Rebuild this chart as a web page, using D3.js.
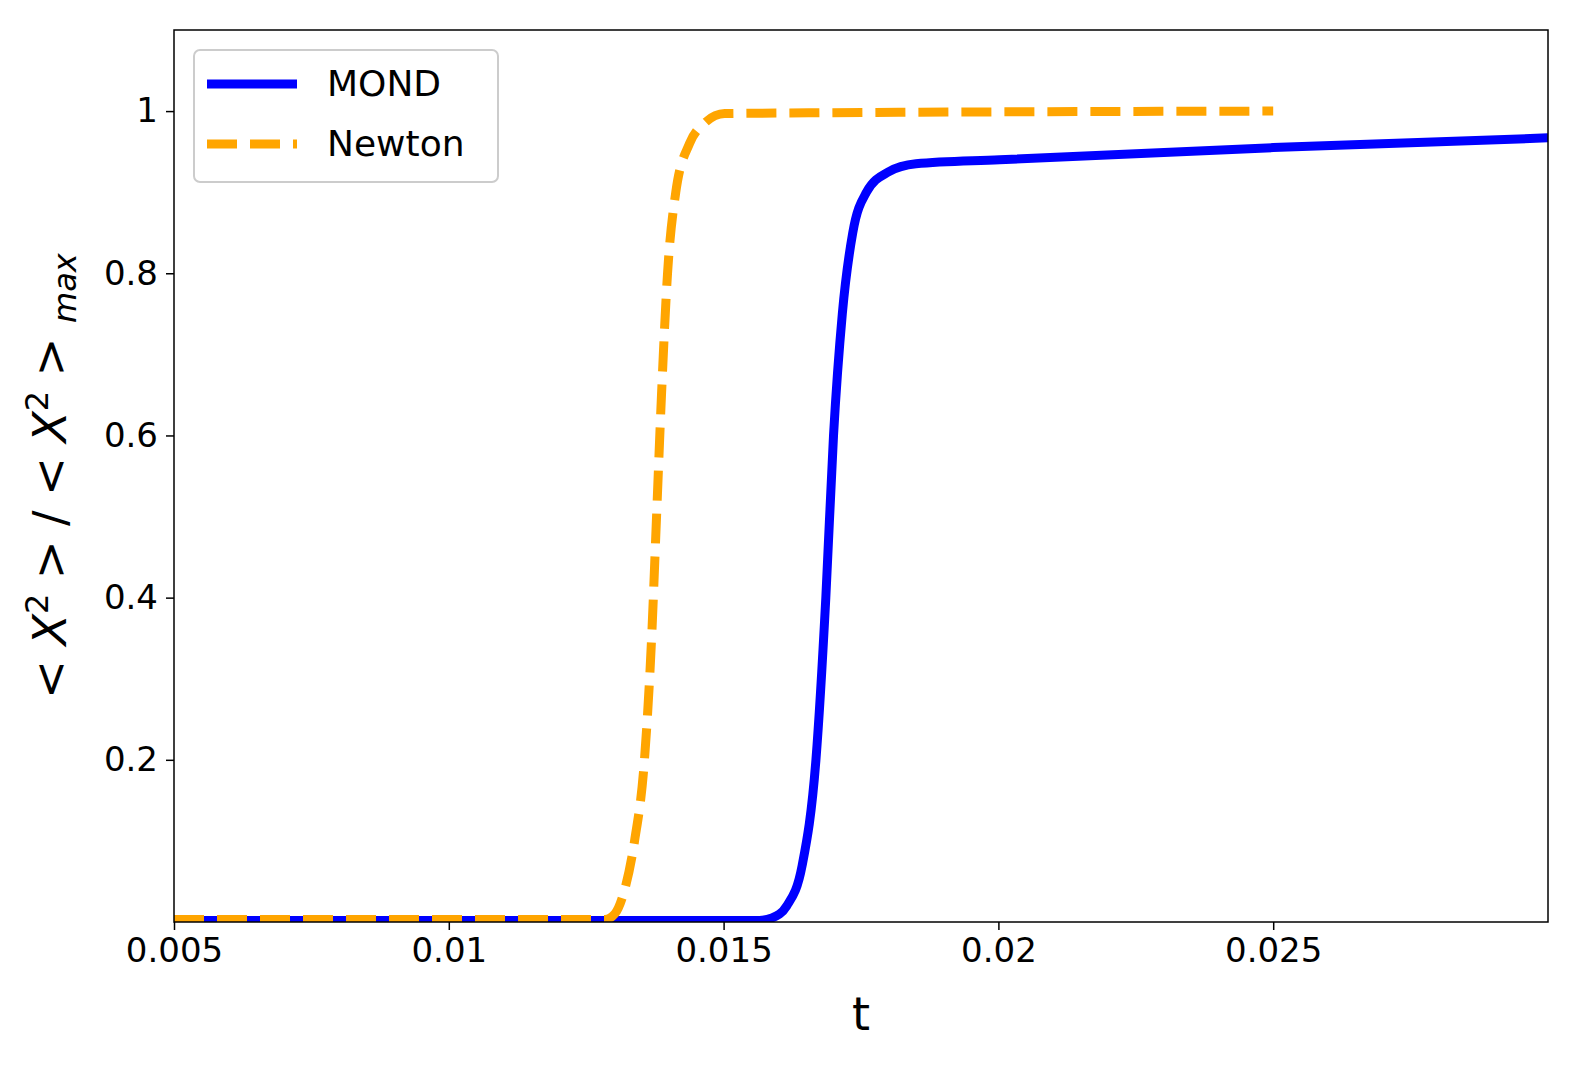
<!DOCTYPE html>
<html><head><meta charset="utf-8">
<script src="https://cdn.jsdelivr.net/npm/d3@7"></script>
<style>body{margin:0;background:#fff}svg{font-family:"DejaVu Sans",sans-serif}</style>
</head><body>
<svg id="c" width="1590" height="1075"></svg>
<script>
const newtonT = [0.005,0.01284,0.01302,0.0132,0.01338,0.01356,0.01369,0.01378,0.01387,0.01398,0.01413,0.01438,0.01465,0.01502,0.025];
const newtonV = [0.003,0.003,0.01,0.04,0.1,0.2,0.35,0.5,0.65,0.8,0.9,0.96,0.985,0.997,1.0];
const mondT = [0.005,0.01565,0.01588,0.01615,0.01643,0.01668,0.01686,0.017,0.01716,0.01735,0.0176,0.018,0.0185,0.02002,0.025,0.03];
const mondV = [0.002,0.002,0.005,0.02,0.07,0.2,0.4,0.6,0.75,0.85,0.9,0.925,0.935,0.94,0.955,0.967];
const xTicks = [0.005,0.01,0.015,0.02,0.025];
const xLabels = ['0.005','0.01','0.015','0.02','0.025'];
const yTicks = [0.2,0.4,0.6,0.8,1];
const yLabels = ['0.2','0.4','0.6','0.8','1'];

const svg = d3.select('#c');
const L = 174, R = 1548, T = 30, B = 922;
const x = d3.scaleLinear().domain([0.005, 0.03]).range([L, R]);
const y = d3.scaleLinear().domain([0, 1.1]).range([B, T]);

const g = svg.append('g');
g.append('clipPath').attr('id', 'clip').append('rect')
    .attr('x', L).attr('y', T).attr('width', R - L).attr('height', B - T);

const line = d3.line().x(d => x(d[0])).y(d => y(d[1])).curve(d3.curveMonotoneX);

g.append('path').attr('clip-path', 'url(#clip)')
    .attr('d', line(mondT.map((t, i) => [t, mondV[i]])))
    .attr('fill', 'none').attr('stroke', '#0000ff').attr('stroke-width', 9);
g.append('path').attr('clip-path', 'url(#clip)')
    .attr('d', line(newtonT.map((t, i) => [t, newtonV[i]])))
    .attr('fill', 'none').attr('stroke', '#ffa500').attr('stroke-width', 9)
    .attr('stroke-dasharray', '30,13');

// frame
g.append('rect').attr('x', L).attr('y', T).attr('width', R - L).attr('height', B - T)
    .attr('fill', 'none').attr('stroke', '#000').attr('stroke-width', 1.5);

// axes
const xa = g.append('g').attr('transform', `translate(0,${B})`)
    .call(d3.axisBottom(x).tickValues(xTicks).tickFormat((d, i) => xLabels[i]).tickSize(8).tickPadding(8));
const ya = g.append('g').attr('transform', `translate(${L},0)`)
    .call(d3.axisLeft(y).tickValues(yTicks).tickFormat((d, i) => yLabels[i]).tickSize(8).tickPadding(8));
[xa, ya].forEach(a => {
    a.select('.domain').remove();
    a.selectAll('line').attr('stroke-width', 1.5);
    a.selectAll('text').attr('font-size', 34).attr('fill', '#000').attr('font-family', '"DejaVu Sans"');
});

g.append('text').attr('x', (L + R) / 2).attr('y', 1030).attr('text-anchor', 'middle')
    .attr('font-size', 46).text('t');

const yl = g.append('text').attr('transform', `translate(66,${(T + B) / 2}) rotate(-90)`)
    .attr('text-anchor', 'middle').attr('font-size', 46);
yl.append('tspan').text('< ');
yl.append('tspan').attr('font-style', 'italic').text('X');
yl.append('tspan').attr('font-size', 32).attr('dy', -18).text('2');
yl.append('tspan').attr('dy', 18).text(' > / < ');
yl.append('tspan').attr('font-style', 'italic').text('X');
yl.append('tspan').attr('font-size', 32).attr('dy', -18).text('2');
yl.append('tspan').attr('dy', 18).text(' > ');
yl.append('tspan').attr('font-style', 'italic').attr('font-size', 32).attr('dy', 10).text('max');

// legend
const lg = g.append('g');
lg.append('rect').attr('x', 194).attr('y', 50).attr('width', 304).attr('height', 132).attr('rx', 6)
    .attr('fill', '#fff').attr('fill-opacity', 0.8).attr('stroke', '#ccc').attr('stroke-width', 2);
const items = [['MOND', '#0000ff', null, 84], ['Newton', '#ffa500', '30,13', 144]];
items.forEach(([name, col, dash, yy]) => {
    lg.append('line').attr('x1', 207).attr('x2', 297).attr('y1', yy).attr('y2', yy)
        .attr('stroke', col).attr('stroke-width', 9).attr('stroke-dasharray', dash);
    lg.append('text').attr('x', 327).attr('y', yy + 12).attr('font-size', 36).text(name);
});
</script>
</body></html>
